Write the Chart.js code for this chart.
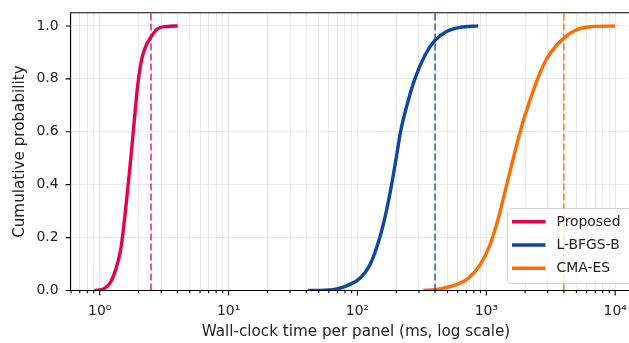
<!DOCTYPE html>
<html>
<head>
<meta charset="utf-8">
<script src="https://cdn.jsdelivr.net/npm/chart.js@4.4.1/dist/chart.umd.min.js"></script>
<style>
    html, body { margin: 0; padding: 0; background: #fff; overflow: hidden; }
    #wrap { width: 629px; height: 343px; }
</style>
</head>
<body>
<div id="wrap"><canvas id="cdfChart" width="629" height="343"></canvas></div>
<script>
// Wall-clock time per panel (ms) vs cumulative probability
const proposedTime = [0.91, 1.09, 1.22, 1.34, 1.46, 1.55, 1.65, 1.75, 1.86, 1.97, 2.12, 2.29, 2.5, 2.82, 3.37, 4.03];
const proposedProb = [0.0, 0.008, 0.033, 0.084, 0.16, 0.26, 0.386, 0.51, 0.65, 0.775, 0.876, 0.926, 0.958, 0.99, 0.998, 1.0];

const lbfgsTime = [41.4, 64.8, 87.3, 104.5, 124.8, 149, 167.6, 184, 199.7, 216, 242, 279, 334, 399, 492, 624, 865];
const lbfgsProb = [0.0, 0.003, 0.023, 0.046, 0.096, 0.2, 0.3, 0.4, 0.5, 0.6, 0.7, 0.8, 0.889, 0.945, 0.979, 0.994, 1.0];

const cmaTime = [324, 399, 570, 724, 892, 1066, 1238, 1395, 1571, 1770, 1994, 2248, 2532, 2939, 3411, 3958, 4874, 6185, 9960];
const cmaProb = [0.0, 0.003, 0.02, 0.046, 0.096, 0.172, 0.272, 0.373, 0.474, 0.574, 0.662, 0.738, 0.807, 0.876, 0.92, 0.952, 0.983, 0.996, 1.0];

// 95th percentile markers (dashed verticals)
const p95Time = [2.5, 400, 4000];

const seriesNames = ['Proposed', 'L-BFGS-B', 'CMA-ES'];
const seriesColors = ['#e8004f', '#0d47a1', '#ff6d00'];
const markerColors = ['rgba(232,0,79,0.72)', 'rgba(13,71,161,0.72)', 'rgba(255,109,0,0.72)'];

const xMajorTicks = [1, 10, 100, 1000, 10000];
const xTickLabels = ['10⁰', '10¹', '10²', '10³', '10⁴'];
const yTicks = [0, 0.2, 0.4, 0.6, 0.8, 1.0];
const xTitle = 'Wall-clock time per panel (ms, log scale)';

const X_MIN = 0.593;
const X_MAX = 12570;
const Y_MAX = 1.05;
const FONT = "'DejaVu Sans', sans-serif";
const TEXT_COLOR = '#222';
const TICK_SIZE = 13.9;
const LABEL_SIZE = 15.2;

function toPoints(xs, ys) {
    return xs.map((x, i) => ({ x: x, y: ys[i] }));
}

// all decade sub-ticks inside the axis range (1..9 x 10^n)
function logTickValues() {
    const vals = [];
    for (let e = -1; e <= 4; e++) {
        for (let m = 1; m <= 9; m++) {
            const v = m * Math.pow(10, e);
            if (v >= X_MIN && v <= X_MAX) vals.push(+v.toPrecision(3));
        }
    }
    return vals;
}

function isMajor(v) {
    return xMajorTicks.includes(v);
}

// axis frame, tick marks, x title and legend, drawn the matplotlib way.
// The original axes run a bit past the right edge of the picture,
// so there is no right spine and the x title sits right of the visible centre.
const framePlugin = {
    id: 'frame',
    afterDraw(chart) {
        const ctx = chart.ctx;
        const a = chart.chartArea;
        const xs = chart.scales.x;
        const ys = chart.scales.y;
        ctx.save();
        ctx.strokeStyle = '#000';
        ctx.lineWidth = 1.1;
        ctx.beginPath();
        ctx.moveTo(chart.width, a.top);
        ctx.lineTo(a.left, a.top);
        ctx.lineTo(a.left, a.bottom);
        ctx.lineTo(chart.width, a.bottom);
        ctx.stroke();

        ctx.beginPath();
        xs.ticks.forEach(t => {
            const px = xs.getPixelForValue(t.value);
            const len = isMajor(t.value) ? 4.9 : 2.8;
            ctx.moveTo(px, a.bottom);
            ctx.lineTo(px, a.bottom + len);
        });
        ys.ticks.forEach(t => {
            const py = ys.getPixelForValue(t.value);
            ctx.moveTo(a.left, py);
            ctx.lineTo(a.left - 4.9, py);
        });
        ctx.stroke();

        ctx.font = LABEL_SIZE + 'px ' + FONT;
        ctx.fillStyle = TEXT_COLOR;
        ctx.textAlign = 'center';
        ctx.textBaseline = 'middle';
        ctx.fillText(xTitle, 356, 332.5);

        // legend box, lower right (its right side is past the picture edge)
        const bx = 507.5, by = 208.5, bw = 127, bh = 75;
        ctx.beginPath();
        ctx.roundRect(bx, by, bw, bh, 3);
        ctx.fillStyle = 'rgba(255,255,255,0.8)';
        ctx.fill();
        ctx.strokeStyle = '#d0d0d0';
        ctx.lineWidth = 1;
        ctx.stroke();

        ctx.font = TICK_SIZE + 'px ' + FONT;
        ctx.textAlign = 'left';
        ctx.fillStyle = TEXT_COLOR;
        seriesNames.forEach((name, i) => {
            const ry = 221.7 + i * 23.3;
            ctx.beginPath();
            ctx.strokeStyle = seriesColors[i];
            ctx.lineWidth = 3.4;
            ctx.moveTo(512, ry);
            ctx.lineTo(545.5, ry);
            ctx.stroke();
            ctx.fillText(name, 556.5, ry + 0.5);
        });
        ctx.restore();
    }
};

const curveDatasets = [
    toPoints(proposedTime, proposedProb),
    toPoints(lbfgsTime, lbfgsProb),
    toPoints(cmaTime, cmaProb)
].map((pts, i) => ({
    label: seriesNames[i],
    data: pts,
    borderColor: seriesColors[i],
    backgroundColor: seriesColors[i],
    borderWidth: 3.4,
    pointRadius: 0,
    cubicInterpolationMode: 'monotone',
    order: 1
}));

const markerDatasets = p95Time.map((t, i) => ({
    label: seriesNames[i] + ' p95',
    data: [{ x: t, y: 0 }, { x: t, y: Y_MAX }],
    borderColor: markerColors[i],
    borderWidth: 1.8,
    borderDash: [7, 3],
    pointRadius: 0,
    order: 0
}));

const ctx = document.getElementById('cdfChart').getContext('2d');
const cdfChart = new Chart(ctx, {
    type: 'line',
    data: { datasets: curveDatasets.concat(markerDatasets) },
    options: {
        responsive: false,
        animation: false,
        layout: { padding: { top: 12.7, right: 1, left: 0, bottom: 0 } },
        plugins: {
            legend: { display: false },
            tooltip: { enabled: false }
        },
        scales: {
            x: {
                type: 'logarithmic',
                min: X_MIN,
                max: X_MAX,
                afterBuildTicks: scale => {
                    scale.ticks = logTickValues().map(v => ({ value: v, major: isMajor(v) }));
                },
                afterFit: scale => {
                    scale.height = 52.5;
                    scale.paddingLeft = 0;
                    scale.paddingRight = 0;
                },
                grid: { color: '#e3e3e3', lineWidth: 0.8, drawTicks: false },
                border: { display: false },
                ticks: {
                    autoSkip: false,
                    maxRotation: 0,
                    padding: 13,
                    color: TEXT_COLOR,
                    font: { family: FONT, size: TICK_SIZE },
                    callback: value => {
                        const idx = xMajorTicks.indexOf(value);
                        return idx >= 0 ? xTickLabels[idx] : '';
                    }
                },
                title: { display: false }
            },
            y: {
                min: 0,
                max: Y_MAX,
                afterBuildTicks: scale => {
                    scale.ticks = yTicks.map(v => ({ value: v }));
                },
                afterFit: scale => {
                    scale.width = 70.5;
                    scale.paddingTop = 0;
                    scale.paddingBottom = 0;
                },
                grid: { color: '#e3e3e3', lineWidth: 0.8, drawTicks: false },
                border: { display: false },
                ticks: {
                    padding: 12,
                    color: TEXT_COLOR,
                    font: { family: FONT, size: TICK_SIZE },
                    callback: value => value.toFixed(1)
                },
                title: {
                    display: true,
                    text: 'Cumulative probability',
                    color: TEXT_COLOR,
                    font: { family: FONT, size: LABEL_SIZE },
                    padding: { top: 11, bottom: 11 }
                }
            }
        }
    },
    plugins: [framePlugin]
});
</script>
</body>
</html>
